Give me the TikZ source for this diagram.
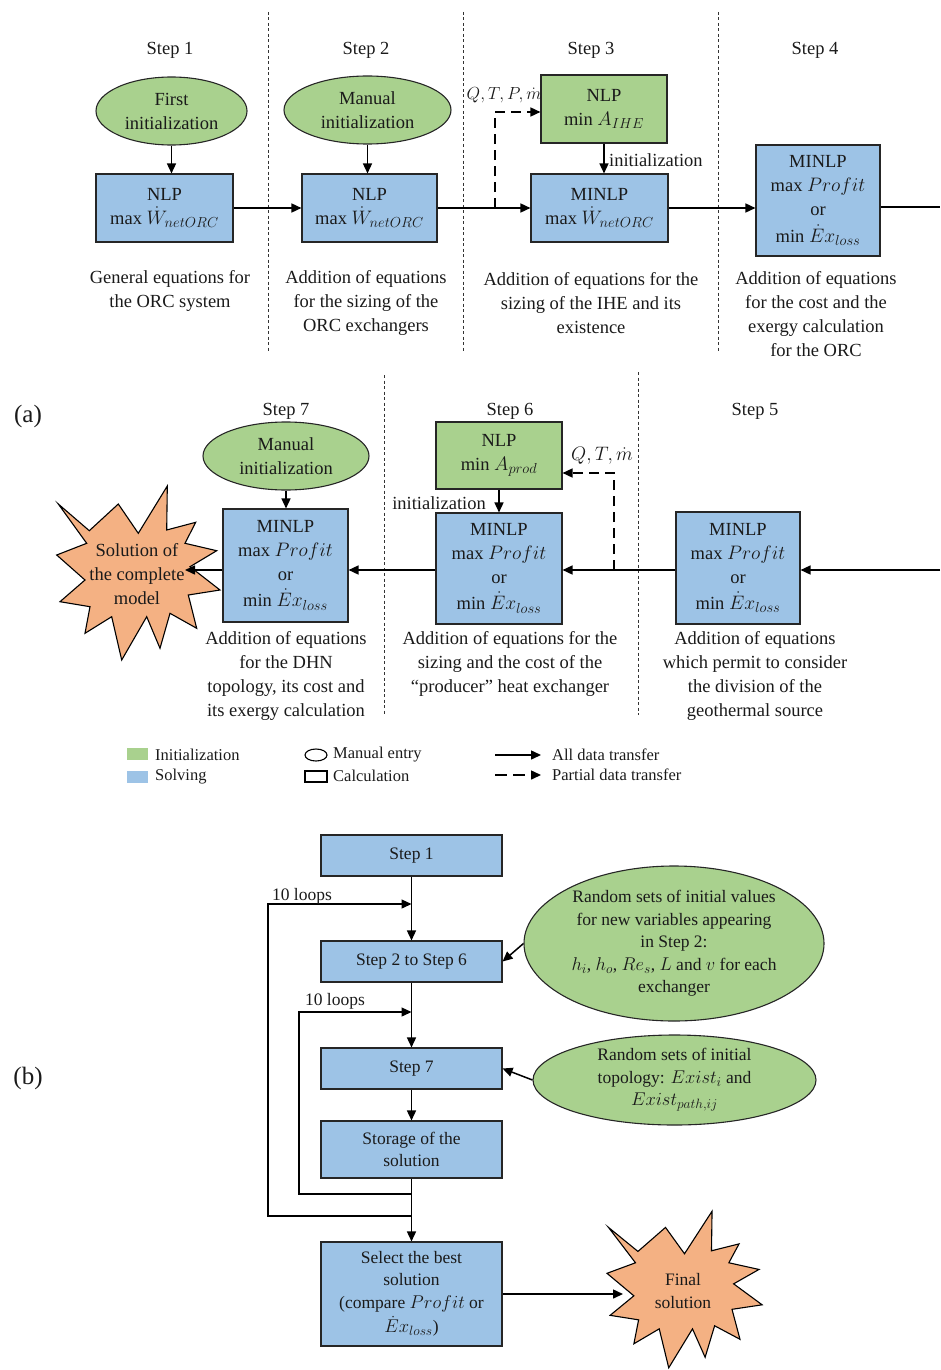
\RequirePackage{fix-cm}
\documentclass[tikz,border=0pt]{standalone}
\usepackage{fontspec}
\setmainfont{Liberation Serif}
\usetikzlibrary{shapes.geometric,arrows.meta,calc}
\DeclareMathSizes{18.5}{19.5}{14.5}{11}
\DeclareMathSizes{17.5}{18.5}{13.5}{10.5}
\DeclareMathSizes{16.5}{17.5}{13}{10}
\definecolor{initgreen}{HTML}{A9D18E}
\definecolor{solveblue}{HTML}{9DC3E6}
\definecolor{burstorange}{HTML}{F4B183}
\definecolor{ink}{HTML}{1A1A1A}
\newcommand\ftop{\fontsize{18.5}{24}\selectfont}
\newcommand\fbot{\fontsize{17.5}{22.5}\selectfont}
\newcommand\fleg{\fontsize{16.5}{22}\selectfont}
\begin{document}
\begin{tikzpicture}[x=1pt,y=-1pt,
  every node/.style={text=ink},
  box/.style={draw=black!85, line width=1.1pt, align=center, inner sep=0pt, font=\ftop},
  solve/.style={box, fill=solveblue},
  initbox/.style={box, fill=initgreen},
  oval/.style={ellipse, draw=black!85, line width=1.1pt, fill=initgreen, align=center, inner sep=0pt, font=\ftop},
  lbl/.style={font=\ftop, align=center, inner sep=0pt},
  blbl/.style={font=\fbot, align=center, inner sep=0pt},
  arr/.style={-{Triangle[length=10pt,width=9pt]}, line width=1.5pt, draw=black},
  conn/.style={line width=1.5pt, draw=black},
  darr/.style={arr, dash pattern=on 10pt off 6pt},
  sep/.style={line width=0.8pt, dash pattern=on 3pt off 2.5pt, draw=black!80},
  burst/.pic={\draw[line width=1.1pt, draw=black, fill=burstorange]
     (-80,-69) -- (-49,-42.3) -- (-20,-69) -- (0,-39.7) -- (29,-87) -- (28.4,-43)
     -- (57.4,-50.7) -- (46.7,-29.7) -- (78.4,-22.3) -- (51.7,-6.3) -- (81.7,17)
     -- (50,22) -- (58.4,55.3) -- (31.7,40.3) -- (21.7,75.3) -- (8.4,43.7)
     -- (-16.6,87) -- (-26.6,43.7) -- (-53.3,60.3) -- (-48.3,33.7) -- (-78.3,28.7)
     -- (-53.3,7) -- (-81.6,-18) -- (-51.6,-29.7) -- cycle;}
]
\useasboundingbox (0,0) rectangle (940,1370);

% ---------------- (a) top row ----------------
\draw[sep] (268,12) -- (268,352);
\draw[sep] (463,12) -- (463,352);
\draw[sep] (718,12) -- (718,352);

\node[lbl] (st1) at (170,50) {Step 1};
\node[lbl] (st2) at (366,50) {Step 2};
\node[lbl] (st3) at (591,50) {Step 3};
\node[lbl] (st4) at (815,50) {Step 4};

\node[oval, minimum width=151, minimum height=68] (e1) at (171.5,111) {First\\initialization};
\node[oval, minimum width=167, minimum height=68] (e2) at (367.5,110) {Manual\\initialization};
\node[solve, minimum width=137, minimum height=68] (b1) at (164.5,208) {NLP\\max $\dot{W}_{netORC}$};
\node[solve, minimum width=135, minimum height=68] (b2) at (369.5,208) {NLP\\max $\dot{W}_{netORC}$};
\node[initbox, minimum width=126, minimum height=68] (g3) at (604,109) {NLP\\min $A_{IHE}$};
\node[solve, minimum width=137, minimum height=68] (m3) at (599.5,208) {MINLP\\max $\dot{W}_{netORC}$};
\node[solve, minimum width=124, minimum height=111] (b4) at (818,200.5) {MINLP\\max $Profit$\\or\\[3pt]min $\dot{E}x_{loss}$};

\draw[arr] (e1) -- (e1 |- b1.north);
\draw[arr] (e2) -- (e2 |- b2.north);
\draw[arr] (b1.east) -- (b2.west);
\draw[arr] (b2.east) -- (m3.west);
\coordinate (j3) at (495,208);
\draw[darr] (j3) |- ($(g3.west)+(0,3)$);
\node[font=\fleg, inner sep=0pt] (q3) at (504,95) {$Q,T,P,\dot{m}$};
\draw[arr] (g3.south) -- (g3.south |- m3.north);
\node[lbl, anchor=west] (i3) at (609,160) {initialization};
\coordinate (r4) at (940,207);
\draw[arr] (m3.east) -- (m3.east -| b4.west);
\draw[conn] (b4.east |- r4) -- (r4);

\node[lbl] (t1) at (170,291) {General equations for\\the ORC system};
\node[lbl] (t2) at (366,303) {Addition of equations\\for the sizing of the\\ORC exchangers};
\node[lbl] (t3) at (591,303) {Addition of equations for the\\sizing of the IHE and its\\existence};
\node[lbl] (t4) at (816,314) {Addition of equations\\for the cost and the\\exergy calculation\\for the ORC};

\node[font=\fontsize{25}{30}\selectfont, inner sep=0pt] (la) at (28,416) {(a)};

% ---------------- (a) second row ----------------
\draw[sep] (384,375) -- (384,715);
\draw[sep] (638,372) -- (638,715);

\node[lbl] (st7) at (286,411) {Step 7};
\node[lbl] (st6) at (510,411) {Step 6};
\node[lbl] (st5) at (755,411) {Step 5};

\node[oval, minimum width=166, minimum height=68] (e7) at (286,456) {Manual\\initialization};
\node[solve, minimum width=125, minimum height=113] (m7) at (285.5,565.5) {MINLP\\max $Profit$\\or\\[2pt]min $\dot{E}x_{loss}$};
\node[initbox, minimum width=126, minimum height=67] (g6) at (499,455.5) {NLP\\min $A_{prod}$};
\node[solve, minimum width=126, minimum height=111] (m6) at (499,568.5) {MINLP\\max $Profit$\\or\\[2pt]min $\dot{E}x_{loss}$};
\node[solve, minimum width=124, minimum height=112] (m5) at (738,568) {MINLP\\max $Profit$\\or\\[2pt]min $\dot{E}x_{loss}$};

\pic at (138.3,573) {burst};
\node[lbl] (sol) at (137,574) {Solution of\\the complete\\model};

\coordinate (r5) at (940,570);
\draw[arr] (r5) -- (r5 -| m5.east);
\draw[arr] (m5.west |- r5) -- (m5.west |- r5 -| m6.east);
\coordinate (j6) at (614,570);
\draw[darr] (j6) |- ($(g6.east)+(0,17.5)$);
\node[lbl] (q6) at (602,456) {$Q,T,\dot{m}$};
\draw[arr] (g6.south) -- (m6.north);
\node[lbl, anchor=east] (i6) at (486,503) {initialization};
\draw[arr] (m6.west |- r5) -- (m6.west |- r5 -| m7.east);
\draw[arr] (e7) -- (e7 |- m7.north);
\coordinate (sp) at (185,570);
\draw[arr] (m7.west |- sp) -- (sp);

\node[lbl] (t7) at (286,676) {Addition of equations\\for the DHN\\topology, its cost and\\its exergy calculation};
\node[lbl] (t6) at (510,664) {Addition of equations for the\\sizing and the cost of the\\``producer'' heat exchanger};
\node[lbl] (t5) at (755,676) {Addition of equations\\which permit to consider\\the division of the\\geothermal source};

% ---------------- legend ----------------
\node[fill=initgreen, minimum width=21, minimum height=12, inner sep=0pt] (kg) at (137.5,754) {};
\node[fill=solveblue, minimum width=21, minimum height=12, inner sep=0pt] (kb) at (137.5,777) {};
\node[font=\fleg, anchor=west, inner sep=0pt] (kgt) at (155,755) {Initialization};
\node[font=\fleg, anchor=west, inner sep=0pt] (kbt) at (155,777) {Solving};
\node[ellipse, draw=black, line width=1.1pt, minimum width=22, minimum height=12, inner sep=0pt] (ke) at (316,755) {};
\node[draw=black, line width=1.1pt, minimum width=22, minimum height=11, inner sep=0pt] (kr) at (316,776.5) {};
\node[font=\fleg, anchor=west, inner sep=0pt] (ket) at (333,755) {Manual entry};
\node[font=\fleg, anchor=west, inner sep=0pt] (krt) at (333,776) {Calculation};
\coordinate (ka1) at (495,755); \coordinate (ka2) at (541,755);
\coordinate (kd1) at (495,775); \coordinate (kd2) at (541,775);
\draw[arr] (ka1) -- (ka2);
\draw[arr, dash pattern=on 12pt off 6pt] (kd1) -- (kd2);
\node[font=\fleg, anchor=west, inner sep=0pt] (kat) at (552,755) {All data transfer};
\node[font=\fleg, anchor=west, inner sep=0pt] (kdt) at (552,775) {Partial data transfer};

% ---------------- (b) ----------------
\node[font=\fontsize{25}{30}\selectfont, inner sep=0pt] (lb) at (28,1078) {(b)};

\tikzset{bbox/.style={draw=black!85, line width=1.1pt, fill=solveblue, align=center, inner sep=0pt, font=\fbot, minimum width=181}}
\node[bbox, minimum height=41] (bs1) at (411.5,855.5) {Step 1};
\node[bbox, minimum height=41] (bs26) at (411.5,961.5) {Step 2 to Step 6};
\node[bbox, minimum height=41] (bs7) at (411.5,1068.5) {Step 7};
\node[bbox, minimum height=57] (bst) at (411.5,1149.5) {Storage of the\\solution};
\node[bbox, minimum height=104] (bsel) at (411.5,1294) {Select the best\\solution\\(compare $Profit$ or\\[2pt]$\dot{E}x_{loss}$)};

\draw[arr] (bs1.south) -- (bs26.north);
\draw[arr] (bs26.south) -- (bs7.north);
\draw[arr] (bs7.south) -- (bst.north);
\draw[arr] (bst.south) -- (bsel.north);

\coordinate (o1) at (268,1216); \coordinate (o2) at (268,904);
\coordinate (i1) at (299,1194); \coordinate (i2) at (299,1012);
\draw[arr, line width=1.3pt] (o1 -| bst.south) -- (o1) -- (o2) -- (o2 -| bs1.south);
\draw[arr, line width=1.3pt] (i1 -| bst.south) -- (i1) -- (i2) -- (i2 -| bs26.south);
\node[blbl] (l1) at (302,896) {10 loops};
\node[blbl] (l2) at (335,1001) {10 loops};

\node[oval, font=\fbot, minimum width=300, minimum height=155] (el1) at (674,943.5)
  {Random sets of initial values\\for new variables appearing\\in Step 2:\\$h_i$, $h_o$, $Re_s$, $L$ and $v$ for each\\exchanger};
\node[oval, font=\fbot, minimum width=283, minimum height=90] (el2) at (674.5,1080)
  {Random sets of initial\\topology: $Exist_i$ and\\$Exist_{path,ij}$};
\draw[arr] (el1.west) -- (bs26.east);
\draw[arr] (el2.west) -- (bs7.east);

\pic[xscale=0.95, yscale=0.9] at (684.5,1289.5) {burst};
\node[blbl] (fin) at (683,1291) {Final\\solution};
\coordinate (fs) at (623,1294);
\draw[arr] (bsel.east) -- (fs);
\end{tikzpicture}
\end{document}
